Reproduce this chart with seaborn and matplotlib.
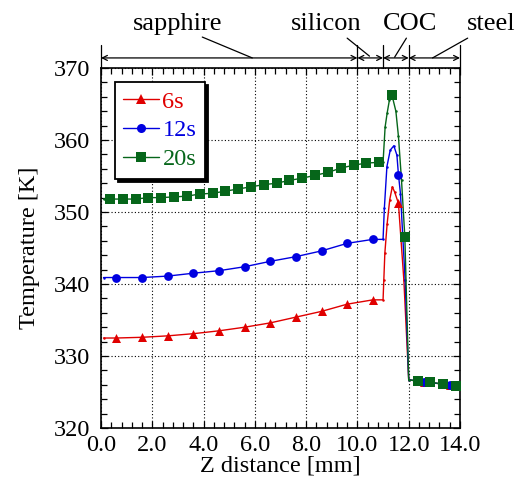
import numpy as np
import pandas as pd
import matplotlib
matplotlib.use('Agg')
import matplotlib.pyplot as plt
import matplotlib.transforms as mtransforms
from matplotlib.lines import Line2D
from matplotlib.ticker import MultipleLocator, FormatStrFormatter
import seaborn as sns

# ---------------- data ----------------
series_names = ['6s', '12s', '20s']
series_colors = ['#e00000', '#0000e0', '#06661a']
series_markers = ['^', 'o', 's']

# 6 s curve
x_6s = [0.1, 0.6, 1.6, 2.6, 3.6, 4.6, 5.6, 6.6, 7.6, 8.6, 9.6, 10.6,
        11.0, 11.03, 11.07, 11.16, 11.26, 11.36, 11.45, 11.6, 11.81,
        12.0, 12.6, 13.6, 14.0]
t_6s = [332.5, 332.5, 332.6, 332.8, 333.1, 333.5, 334.0, 334.6, 335.4, 336.2, 337.2, 337.8,
        337.8, 340.6, 344.3, 348.4, 351.7, 353.5, 352.8, 351.2, 340.6,
        326.7, 326.4, 326.0, 325.9]
marks_6s = [1, 2, 3, 4, 5, 6, 7, 8, 9, 10, 11, 19, 22, 23]

# 12 s curve
x_12s = [0.1, 0.6, 1.6, 2.6, 3.6, 4.6, 5.6, 6.6, 7.6, 8.6, 9.6, 10.6,
         11.0, 11.05, 11.15, 11.28, 11.42, 11.54, 11.6, 11.68, 11.86,
         12.0, 12.6, 13.6, 14.0]
t_12s = [340.9, 340.9, 340.9, 341.1, 341.5, 341.85, 342.4, 343.15, 343.8, 344.6, 345.65, 346.2,
         346.2, 350.5, 356.3, 358.6, 359.2, 357.9, 355.2, 352.5, 340.6,
         326.7, 326.4, 326.0, 325.9]
marks_12s = [1, 2, 3, 4, 5, 6, 7, 8, 9, 10, 11, 18, 22, 23]

# 20 s curve
x_20s = [0.1, 0.35, 0.85, 1.35, 1.85, 2.35, 2.85, 3.35, 3.85, 4.35, 4.85, 5.35,
         5.85, 6.35, 6.85, 7.35, 7.85, 8.35, 8.85, 9.35, 9.85, 10.35, 10.85,
         11.0, 11.08, 11.16, 11.25, 11.35, 11.5, 11.6, 11.72, 11.85,
         12.0, 12.35, 12.85, 13.35, 13.85, 14.0]
t_20s = [351.8, 351.8, 351.8, 351.8, 352.0, 352.0, 352.1, 352.2, 352.5, 352.6, 352.9, 353.2,
         353.5, 353.8, 354.0, 354.4, 354.7, 355.1, 355.5, 356.1, 356.5, 356.8, 356.9,
         356.9, 361.8, 363.75, 365.6, 366.2, 364.0, 360.5, 354.4, 346.5,
         326.7, 326.5, 326.35, 326.1, 325.9, 325.85]
marks_20s = list(range(1, 23)) + [27, 31, 33, 34, 35, 36]

layers = ['sapphire', 'silicon', 'COC', 'steel']
layer_bounds = [0.0, 10.0, 11.0, 12.0, 14.0]

x_ticks = [0.0, 2.0, 4.0, 6.0, 8.0, 10.0, 12.0, 14.0]
y_ticks = [320, 330, 340, 350, 360, 370]

# ---------------- style ----------------
sns.set_theme(style='ticks')
plt.rcParams['font.family'] = ['Liberation Serif', 'DejaVu Serif']
plt.rcParams['axes.edgecolor'] = 'black'
plt.rcParams['xtick.color'] = 'black'
plt.rcParams['ytick.color'] = 'black'

fig = plt.figure(figsize=(5.26, 4.8), dpi=100)
ax = fig.add_axes([0.192, 0.1083, 0.6825, 0.75])

all_x = [x_6s, x_12s, x_20s]
all_t = [t_6s, t_12s, t_20s]
all_marks = [marks_6s, marks_12s, marks_20s]
sizes = [42, 40, 48]

for name, xs, ts, mk, col, m, s in zip(series_names, all_x, all_t, all_marks,
                                       series_colors, series_markers, sizes):
    sns.lineplot(x=xs, y=ts, ax=ax, color=col, lw=1.0, sort=False, estimator=None,
                 marker='o', markersize=1.8, markeredgewidth=0, legend=False, zorder=2)
    xm = [xs[i] for i in mk]
    tm = [ts[i] for i in mk]
    sns.scatterplot(x=xm, y=tm, ax=ax, marker=m, s=s, color=col, edgecolor=col,
                    linewidth=0, legend=False, zorder=3)

ax.set_xlim(layer_bounds[0], layer_bounds[-1])
ax.set_ylim(y_ticks[0], y_ticks[-1])
ax.set_xticks(x_ticks)
ax.set_yticks(y_ticks)
ax.xaxis.set_major_formatter(FormatStrFormatter('%.1f'))
ax.yaxis.set_major_formatter(FormatStrFormatter('%d'))
ax.xaxis.set_minor_locator(MultipleLocator(0.4))
ax.yaxis.set_minor_locator(MultipleLocator(2))
ax.tick_params(which='both', direction='in', top=True, right=True, width=0.9, colors='black')
ax.tick_params(which='major', length=5, labelsize=17.5)
ax.tick_params(axis='y', which='major', pad=8)
ax.tick_params(axis='x', which='major', pad=5)
ax.tick_params(which='minor', length=4)
ax.grid(True, which='major', color='black', linestyle=(0, (1, 2)), lw=0.8)
for sp in ax.spines.values():
    sp.set_visible(True)
    sp.set_linewidth(1.2)
    sp.set_color('black')

ax.set_xlabel('Z distance [mm]', fontsize=17.5, color='black', labelpad=0)
ax.set_ylabel('Temperature [K]', fontsize=17.5, color='black', labelpad=10)

# legend
handles = [Line2D([0], [0], color=c, lw=1.0, marker=m, markersize=6.5, markeredgewidth=0)
           for c, m in zip(series_colors, series_markers)]
leg = ax.legend(handles, series_names, loc='upper left', bbox_to_anchor=(0.039, 0.961),
                borderaxespad=0, fontsize=17.5, frameon=True, fancybox=False,
                shadow={'color': 'black', 'alpha': 1.0}, handlelength=1.45,
                handletextpad=0.15, labelspacing=0.28, borderpad=0.35,
                labelcolor='linecolor')
leg.get_frame().set_edgecolor('black')
leg.get_frame().set_linewidth(1.3)
leg.get_frame().set_facecolor('white')
leg.get_frame().set_alpha(1.0)

# layer dimension annotations above the axes
trans = mtransforms.blended_transform_factory(ax.transData, ax.transAxes)
y_arrow = 1.028
for b in layer_bounds:
    ax.plot([b, b], [1.0, 1.064], transform=trans, color='black', lw=0.9, clip_on=False)
for b0, b1 in zip(layer_bounds[:-1], layer_bounds[1:]):
    ax.annotate('', xy=(b1, y_arrow), xytext=(b0, y_arrow), xycoords=trans, textcoords=trans,
                arrowprops=dict(arrowstyle='<->', lw=0.9, color='black', shrinkA=0, shrinkB=0,
                                mutation_scale=9), annotation_clip=False)

label_pos = [(3.0, 1.122), (8.8, 1.122), (12.07, 1.122), (15.2, 1.122)]
leader_from = [(3.95, 1.086), (9.6, 1.083), (11.91, 1.083), (14.3, 1.083)]
leader_to = [(5.9, 1.028), (10.47, 1.033), (11.45, 1.030), (12.93, 1.028)]
for name, lp, lf, lt in zip(layers, label_pos, leader_from, leader_to):
    ax.text(lp[0], lp[1], name, transform=trans, ha='center', va='center', fontsize=19,
            color='black', clip_on=False)
    ax.annotate('', xy=lt, xytext=lf, xycoords=trans, textcoords=trans,
                arrowprops=dict(arrowstyle='-', lw=0.9, color='black', shrinkA=0, shrinkB=0),
                annotation_clip=False)

fig.savefig('out.png', dpi=100)
